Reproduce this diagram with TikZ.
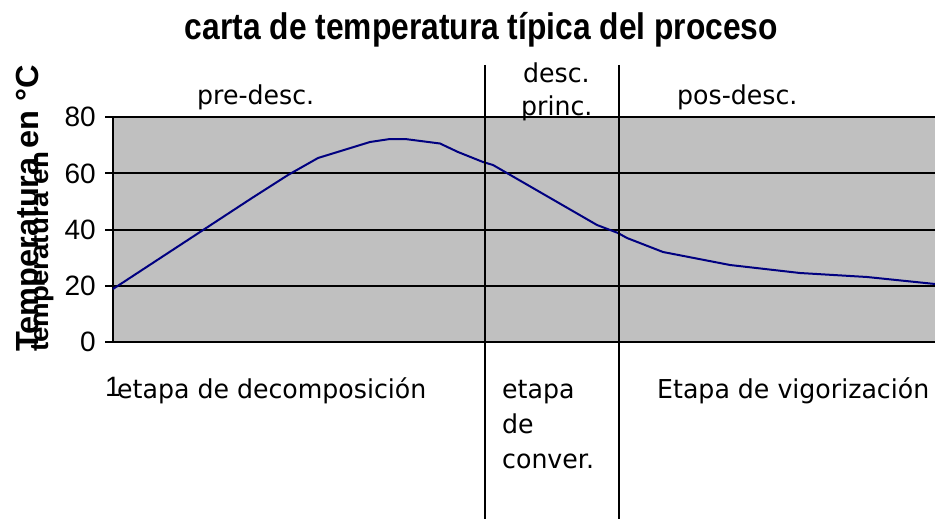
\documentclass[tikz,border=0pt]{standalone}
\usepackage{fontspec}
\setmainfont{Liberation Sans}
\newfontfamily\labfont[FakeStretch=0.97]{DejaVu Sans}
\definecolor{plotgray}{HTML}{C0C0C0}
\definecolor{curvenavy}{HTML}{000080}
\begin{document}
\begin{tikzpicture}[x=1pt,y=-1pt,
  lab/.style={font=\labfont\fontsize{26}{30}\selectfont, inner sep=0pt, anchor=base west},
  ticklab/.style={font=\fontsize{28}{30}\selectfont, inner sep=0pt, anchor=east},
  gridline/.style={line width=2pt},
  sepline/.style={line width=1.5pt},
  ylabel/.style={rotate=90, anchor=base west, inner sep=0pt}]
\useasboundingbox (0,0) rectangle (935,519);
% plot area
\fill[plotgray] (113,117.3) rectangle (936,341.7);
\foreach \v/\yy in {0/341.7,20/285.6,40/229.5,60/173.4,80/117.3}{
  \draw[gridline] (105,\yy) -- (936,\yy);
  \node[ticklab] (tick\v) at (96,\yy) {\v};
}
\draw[gridline] (113,116.3) -- (113,342.7);
% curve
\draw[curvenavy, line width=2pt, line join=round] plot coordinates {
  (113,289) (252,198) (288,175) (318,158) (370,142) (390,139) (405,139)
  (440,143.5) (458,152) (483,162) (493,165) (597,225) (618,233) (627,238)
  (663,252) (730,265) (800,273) (867,277) (935,284)};
% separators
\coordinate (s1top) at (485,65);
\coordinate (s1bot) at (485,519);
\coordinate (s2top) at (619,65);
\coordinate (s2bot) at (619,519);
\draw[sepline] (s1top) -- (s1bot);
\draw[sepline] (s2top) -- (s2bot);
% title
\node[anchor=base, inner sep=0pt] (title) at (481.5,40)
  {\resizebox{593pt}{\height}{\fontsize{37}{37}\selectfont\bfseries carta de temperatura típica del proceso}};
% y labels
\node[ylabel] (ylab) at (38,352)
  {\resizebox{287pt}{\height}{\fontsize{32}{32}\selectfont\bfseries Temperatura en~°C}};
\node[ylabel] (ylabb) at (48,352)
  {\resizebox{200pt}{\height}{\fontsize{26}{26}\selectfont\bfseries temperatura en}};
% top labels
\node[lab] (pre) at (197,104) {pre-desc.};
\node[lab] (desca) at (523,83) {desc.};
\node[lab] (descb) at (521,116) {princ.};
\node[lab] (pos) at (677,104) {pos-desc.};
% bottom labels
\node[ticklab, anchor=base west] (one) at (105,396) {1};
\node[lab] (stage1) at (117,398) {etapa de decomposición};
\node[lab] (stage2a) at (502,398) {etapa};
\node[lab] (stage2b) at (502,433) {de};
\node[lab] (stage2c) at (502,468) {conver.};
\node[lab] (stage3) at (657,398) {Etapa de vigorización};
\end{tikzpicture}
\end{document}
